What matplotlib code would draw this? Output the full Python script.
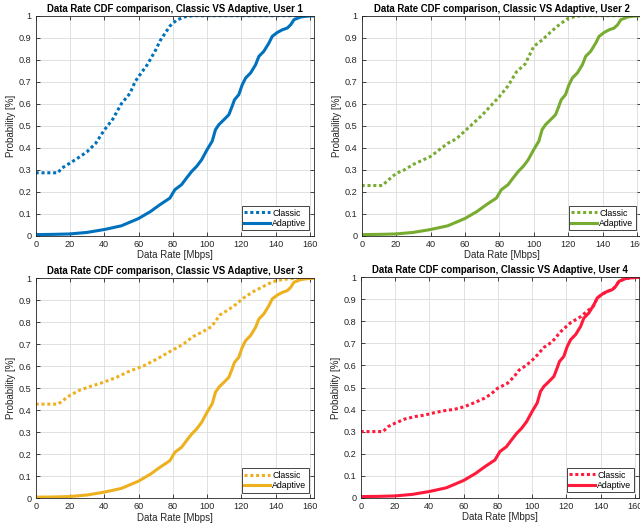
import numpy as np
import matplotlib
matplotlib.use('Agg')
import matplotlib.pyplot as plt
from matplotlib.lines import Line2D

plt.rcParams['font.family'] = ['Liberation Sans', 'DejaVu Sans']

# Adaptive scheduler CDF (same for every user)
adaptive_rate = [0, 10, 20, 30, 40, 50, 60, 67, 72.5, 78.3, 81.2, 85.1, 88, 91, 93.9,
                 96.8, 100, 103, 104.9, 106.9, 109.8, 112.7, 114.6, 116, 118.5, 120.5,
                 122.5, 125.4, 128.3, 130.2, 133.1, 136.1, 138, 141, 143.9, 146.8,
                 148.8, 150.7, 154.6, 158, 162.5]
adaptive_cdf = [0.005, 0.006, 0.008, 0.015, 0.028, 0.045, 0.078, 0.11, 0.141, 0.171,
                0.209, 0.232, 0.262, 0.292, 0.315, 0.345, 0.391, 0.43, 0.482, 0.505,
                0.527, 0.55, 0.588, 0.618, 0.641, 0.686, 0.717, 0.74, 0.777, 0.815,
                0.838, 0.876, 0.906, 0.924, 0.936, 0.944, 0.959, 0.982, 0.994, 0.998, 1.0]

# Classic scheduler CDF per user
classic_rate_u1 = [0, 13, 15, 20, 25, 30, 35, 40, 45, 50, 55, 58, 60, 65, 70, 72.5,
                   78.3, 82.2, 87, 92, 162.5]
classic_cdf_u1 = [0.286, 0.286, 0.306, 0.33, 0.355, 0.382, 0.42, 0.48, 0.53, 0.60,
                  0.647, 0.70, 0.723, 0.776, 0.844, 0.885, 0.953, 0.98, 0.995, 1.0, 1.0]

classic_rate_u2 = [0, 12, 15, 20, 25, 30, 40, 50, 55, 60, 70, 75, 80, 85, 90, 95, 100,
                   105, 110, 115, 120, 125, 130, 162.5]
classic_cdf_u2 = [0.228, 0.228, 0.25, 0.283, 0.30, 0.324, 0.36, 0.42, 0.44, 0.476,
                  0.548, 0.59, 0.632, 0.68, 0.745, 0.78, 0.86, 0.89, 0.927, 0.96,
                  0.988, 0.998, 1.0, 1.0]

classic_rate_u3 = [0, 13, 20, 25.8, 31.7, 39.4, 47.2, 55, 62.7, 70.5, 78.3, 86, 91.8,
                   97.7, 102.5, 105.4, 107.4, 112.2, 117.1, 121, 126.8, 132.6, 138.4,
                   144.3, 152, 162.5]
classic_cdf_u3 = [0.428, 0.428, 0.468, 0.492, 0.508, 0.527, 0.55, 0.579, 0.601, 0.632,
                  0.667, 0.70, 0.735, 0.758, 0.78, 0.81, 0.833, 0.856, 0.883, 0.909,
                  0.939, 0.962, 0.985, 0.995, 1.0, 1.0]

classic_rate_u4 = [0, 13, 16.1, 20, 25.8, 31.6, 37.4, 43.2, 49, 54.7, 60.5, 66.3, 72.1,
                   76, 79.8, 85.6, 89.5, 92.4, 95.3, 99.2, 103, 106.9, 111.7, 116.5,
                   122.3, 128.1, 132.9, 135.8, 138, 141, 143.9, 146.8, 148.8, 150.7,
                   154.6, 158, 162.5]
classic_cdf_u4 = [0.30, 0.30, 0.323, 0.338, 0.357, 0.368, 0.375, 0.386, 0.395, 0.401,
                  0.413, 0.431, 0.451, 0.47, 0.496, 0.519, 0.549, 0.579, 0.594, 0.617,
                  0.647, 0.682, 0.707, 0.752, 0.793, 0.82, 0.851, 0.869, 0.906, 0.924,
                  0.936, 0.944, 0.959, 0.982, 0.994, 0.998, 1.0]

users = [1, 2, 3, 4]
classic_rates = [classic_rate_u1, classic_rate_u2, classic_rate_u3, classic_rate_u4]
classic_cdfs = [classic_cdf_u1, classic_cdf_u2, classic_cdf_u3, classic_cdf_u4]
colors = ['#0072BD', '#77AC30', '#EDB120', '#FF1A3C']

# axes rectangles in pixels: left, top, width, height
W, H = 640, 527
rects = [(35.7, 15.7, 278.5, 220.0),
         (361.7, 15.7, 279.5, 220.0),
         (35.7, 278.3, 278.5, 220.0),
         (360.7, 277.3, 278.5, 220.4)]

fig = plt.figure(figsize=(W / 100, H / 100), dpi=100)
axis_color = '#262626'

for user, rate, cdf, color, (l, t, w, h) in zip(users, classic_rates, classic_cdfs, colors, rects):
    ax = fig.add_axes([l / W, 1 - (t + h) / H, w / W, h / H])
    ax.plot(rate, cdf, color=color, linewidth=2.2, linestyle=(0, (1.0, 0.9)),
            dash_capstyle='butt', label='Classic')
    ax.plot(adaptive_rate, adaptive_cdf, color=color, linewidth=2.2, label='Adaptive')

    ax.set_xlim(0, 162.5)
    ax.set_ylim(0, 1)
    ax.set_xticks(np.arange(0, 161, 20))
    ax.set_yticks(np.round(np.arange(0, 1.01, 0.1), 1))
    ax.set_yticklabels(['0'] + ['%.1f' % v for v in np.arange(0.1, 0.95, 0.1)] + ['1'])
    ax.grid(True, color='#dcdcdc', linewidth=0.6)
    ax.set_axisbelow(True)
    ax.tick_params(direction='in', length=3, width=0.6, top=True, right=True,
                   labelsize=6.6, colors=axis_color, pad=3)
    for s in ax.spines.values():
        s.set_color(axis_color)
        s.set_linewidth(0.6)

    ax.set_title('Data Rate CDF comparison, Classic VS Adaptive, User %d' % user,
                 fontsize=6.9, fontweight='bold', pad=3)
    ax.set_xlabel('Data Rate [Mbps]', fontsize=7, color=axis_color, labelpad=1)
    ax.set_ylabel('Probability [%]', fontsize=7, color=axis_color, labelpad=2)

    handles = [Line2D([], [], color=color, linewidth=2.2, linestyle=(0, (1.0, 0.9)),
                      dash_capstyle='butt'),
               Line2D([], [], color=color, linewidth=2.2)]
    leg = ax.legend(handles, ['Classic', 'Adaptive'], loc='lower right', fontsize=6.3,
                    handlelength=3.0, handletextpad=0.2, borderpad=0.3, labelspacing=0.15,
                    borderaxespad=0.6, fancybox=False, framealpha=1)
    leg.get_frame().set_edgecolor(axis_color)
    leg.get_frame().set_linewidth(0.6)

fig.savefig('out.png', dpi=100)
